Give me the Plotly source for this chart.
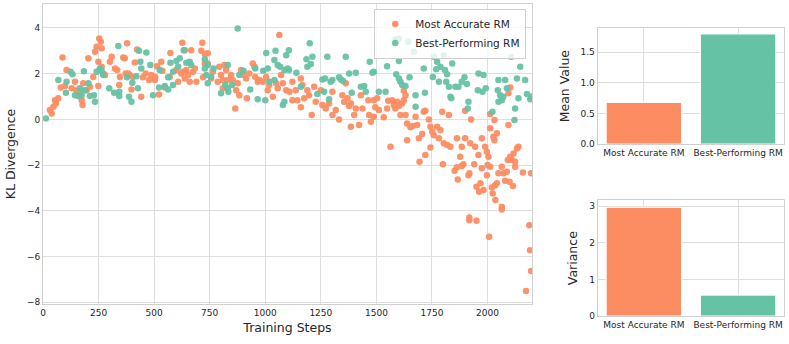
import plotly.graph_objects as go

# Most Accurate RM (orange) - training step, KL divergence
acc_steps = [31, 39, 47, 54, 58, 69, 80, 88, 99, 106, 129, 144, 151, 166, 174, 178, 181, 196, 204, 211,
             226, 234, 241, 249, 249, 253, 260, 264, 264, 271, 279, 301, 309, 324, 334, 343, 346, 361, 368, 372,
             378, 383, 390, 398, 405, 413, 423, 442, 450, 462, 477, 487, 503, 505, 513, 522, 532, 537, 548, 570,
             573, 600, 608, 622, 627, 630, 638, 638, 645, 653, 660, 667, 675, 683, 690, 712, 717, 720, 728, 728,
             741, 741, 756, 764, 786, 793, 801, 809, 809, 816, 824, 831, 846, 854, 865, 869, 876, 883, 891, 902,
             914, 917, 928, 944, 951, 955, 966, 974, 989, 1004, 1011, 1018, 1034, 1049, 1056, 1063, 1071, 1079, 1094, 1109,
             1122, 1122, 1137, 1144, 1160, 1160, 1167, 1175, 1189, 1197, 1209, 1220, 1227, 1250, 1257, 1272, 1287, 1302, 1302, 1317,
             1332, 1347, 1355, 1362, 1370, 1377, 1385, 1385, 1400, 1407, 1422, 1430, 1437, 1464, 1467, 1475, 1488, 1488, 1495, 1503,
             1511, 1533, 1548, 1553, 1563, 1571, 1578, 1585, 1593, 1601, 1608, 1616, 1623, 1623, 1631, 1631, 1638, 1638, 1653, 1661,
             1676, 1683, 1691, 1694, 1706, 1713, 1720, 1720, 1736, 1743, 1743, 1751, 1758, 1773, 1781, 1788, 1796, 1799, 1803, 1818,
             1826, 1833, 1852, 1862, 1862, 1866, 1877, 1884, 1884, 1891, 1899, 1899, 1914, 1918, 1918, 1918, 1922, 1926, 1940, 1944,
             1950, 1950, 1959, 1962, 1968, 1974, 1974, 1982, 1989, 1997, 1997, 2000, 2004, 2007, 2012, 2012, 2012, 2019, 2023, 2026,
             2031, 2031, 2034, 2035, 2042, 2042, 2049, 2064, 2064, 2064, 2071, 2079, 2087, 2091, 2094, 2094, 2099, 2102, 2102, 2109,
             2114, 2117, 2124, 2124, 2132, 2139, 2159, 2173, 2188, 2191, 2196, 2196]
acc_kl = [0.41, 0.26, 0.55, 0.84, 0.70, 0.92, 1.40, 2.71, 1.46, 2.16, 1.36, 1.65, 1.28, 1.21, 0.84, 0.63, 1.58, 1.28, 2.67, 1.43,
          1.86, 2.96, 3.18, 2.52, 1.46, 3.54, 3.40, 3.11, 2.30, 2.01, 1.94, 2.52, 2.74, 2.23, 2.16, 1.50, 1.86, 2.71, 2.67, 2.01,
          3.33, 2.01, 1.94, 1.31, 1.86, 2.49, 3.06, 0.99, 1.84, 2.01, 1.72, 1.94, 1.72, 1.86, 2.33, 1.09, 2.52, 2.13, 1.40, 1.86,
          2.91, 2.16, 1.65, 2.01, 3.35, 2.08, 3.03, 1.79, 2.16, 1.94, 1.65, 3.03, 2.08, 2.23, 1.65, 3.00, 3.35, 1.84, 2.86, 2.45,
          2.89, 2.45, 1.79, 2.08, 1.65, 2.30, 1.94, 1.72, 1.36, 2.38, 2.16, 1.72, 1.94, 1.72, 0.48, 1.28, 1.58, 1.06, 2.16, 1.94,
          1.79, 0.92, 2.01, 2.45, 2.30, 1.86, 1.65, 1.72, 1.65, 1.86, 1.28, 1.50, 0.99, 1.58, 1.36, 3.69, 1.94, 1.58, 1.28, 1.21,
          1.65, 0.84, 1.28, 0.84, 1.79, 0.53, 1.50, 0.92, 1.28, 1.06, 0.19, 1.43, 0.77, 1.28, 0.63, 0.48, 0.70, 1.21, 0.19, 0.41,
          0.00, 1.06, 0.77, 1.58, 0.92, 0.58, -0.32, 0.70, 0.19, 0.48, -0.25, 1.06, 0.48, 0.84, 0.19, -0.10, 0.84, 0.11, 0.53, 0.92,
          0.41, 0.09, 0.48, 0.81, -1.20, 0.84, 0.63, 0.48, 0.77, 0.58, 0.19, 0.70, 1.25, 0.84, 1.06, 0.19, -0.18, -0.91, -0.35, -0.29,
          0.11, -0.25, -0.83, -1.86, -0.64, 0.33, 0.38, -1.56, 0.00, -0.32, -1.23, -0.54, -0.69, -0.32, -0.83, -0.47, 0.33, -1.96, -1.05, -1.12,
          0.19, -1.20, -2.25, -0.83, -2.10, -2.63, -1.64, -1.20, -2.04, -1.96, 0.38, -0.83, -2.44, -4.29, -4.42, -2.36, -1.05, 0.00, -1.96, -1.20,
          -4.44, -2.95, -1.56, -3.17, -2.80, -0.83, -2.14, -3.09, -1.20, -1.42, -2.44, -2.00, -1.64, -5.14, 0.23, -0.39, -2.07, -2.98, -3.24, -0.76,
          -0.03, -0.91, -2.88, -3.53, -0.61, -2.80, -2.36, -2.07, -3.82, -3.94, -2.36, -2.69, -2.29, -1.78, 1.14, -0.25, -2.73, 1.40, -1.64, -1.78,
          -2.92, -1.49, -1.86, -2.07, -1.27, -1.20, -2.32, -7.51, -4.63, -5.73, -6.64, -2.36]

# Best-Performing RM (green)
best_steps = [13, 69, 103, 106, 124, 133, 144, 159, 166, 174, 184, 189, 204, 211, 229, 234, 241, 256, 264, 271,
              298, 320, 339, 343, 343, 378, 387, 398, 402, 420, 427, 432, 438, 442, 465, 483, 495, 522, 525, 548,
              563, 563, 573, 585, 585, 600, 608, 615, 633, 645, 660, 667, 728, 728, 735, 741, 741, 756, 767, 801,
              820, 831, 831, 834, 851, 876, 883, 902, 932, 955, 966, 991, 1000, 1004, 1011, 1018, 1041, 1041, 1046, 1056,
              1067, 1079, 1086, 1086, 1094, 1101, 1106, 1107, 1140, 1160, 1185, 1189, 1200, 1205, 1212, 1234, 1257, 1265, 1269, 1279,
              1287, 1294, 1302, 1332, 1340, 1350, 1362, 1377, 1389, 1407, 1430, 1445, 1452, 1470, 1482, 1488, 1511, 1541, 1548, 1585,
              1589, 1601, 1601, 1601, 1608, 1616, 1631, 1643, 1649, 1668, 1676, 1676, 1713, 1718, 1754, 1758, 1769, 1773, 1781, 1788,
              1803, 1808, 1814, 1818, 1826, 1833, 1837, 1841, 1855, 1869, 1884, 1896, 1907, 1911, 1914, 1956, 1959, 1977, 1982, 1992,
              2022, 2046, 2049, 2049, 2057, 2064, 2071, 2079, 2087, 2106, 2121, 2124, 2132, 2139, 2147, 2169, 2177, 2192, 2199]
best_kl = [0.04, 1.72, 1.16, 1.65, 2.08, 1.98, 1.06, 1.02, 1.36, 1.06, 2.11, 1.28, 1.58, 1.02, 1.06, 0.77, 2.08, 2.23, 2.13, 1.94,
           1.36, 1.16, 3.21, 1.21, 1.02, 1.84, 0.99, 0.77, 1.60, 1.89, 1.36, 3.00, 2.52, 2.23, 2.93, 2.38, 1.06, 1.40, 2.16, 1.46,
           1.31, 1.84, 2.48, 1.50, 2.08, 2.56, 2.30, 2.67, 3.03, 2.48, 2.52, 2.38, 2.63, 2.23, 1.94, 2.38, 1.58, 1.86, 2.23, 1.14,
           1.50, 2.38, 1.36, 1.21, 1.50, 3.98, 1.94, 2.13, 1.31, 2.23, 0.88, 2.13, 0.84, 2.91, 2.23, 1.65, 2.60, 1.72, 3.00, 2.38,
           2.30, 0.63, 2.16, 0.77, 2.81, 2.23, 3.03, 2.16, 2.04, 1.43, 2.63, 2.30, 3.33, 2.42, 2.74, 1.11, 1.75, 1.21, 1.79, 2.74,
           0.88, 1.65, 1.72, 1.84, 1.75, 1.68, 2.74, 2.01, 1.16, 2.04, 1.43, 1.46, 1.21, 2.52, 2.04, 2.08, 1.21, 1.21, 2.33, 3.50,
           1.98, 2.56, 3.54, 1.79, 1.65, 1.50, 1.46, 3.40, 1.84, 2.96, 1.06, 0.55, 2.23, 1.16, 1.86, 2.74, 2.19, 2.52, 1.65, 2.30,
           2.81, 2.16, 1.65, 1.98, 1.43, 0.99, 0.92, 2.45, 1.43, 1.43, 1.65, 1.84, 1.55, 0.48, 0.77, 1.28, 2.01, 1.21, 1.94, 1.36,
           0.33, 1.28, 1.72, 0.77, 1.06, 0.84, 0.99, 1.72, 1.36, 2.74, -0.03, 0.48, 1.79, 0.92, 2.30, 1.72, 1.11, 0.88, 1.00]

models = ["Most Accurate RM", "Best-Performing RM"]
mean_values = [0.68, 1.80]
variance_values = [2.97, 0.57]

ORANGE = "#fc8d62"
GREEN = "#66c2a5"
GRID = "#dedede"
TEXT = "#262626"
FONT = "DejaVu Sans"

fig = go.Figure()

fig.add_trace(go.Scatter(
    name="Most Accurate RM", x=acc_steps, y=acc_kl, mode="markers",
    marker=dict(color=ORANGE, size=6.5, opacity=0.95, line=dict(width=0)),
    xaxis="x", yaxis="y"))
fig.add_trace(go.Scatter(
    name="Best-Performing RM", x=best_steps, y=best_kl, mode="markers",
    marker=dict(color=GREEN, size=6.5, opacity=0.95, line=dict(width=0)),
    xaxis="x", yaxis="y"))

fig.add_trace(go.Bar(
    x=models, y=mean_values, width=0.8, marker=dict(color=[ORANGE, GREEN], line=dict(color="white", width=1)),
    showlegend=False, xaxis="x2", yaxis="y2"))
fig.add_trace(go.Bar(
    x=models, y=variance_values, width=0.8, marker=dict(color=[ORANGE, GREEN], line=dict(color="white", width=1)),
    showlegend=False, xaxis="x3", yaxis="y3"))

axis_style = dict(showgrid=True, gridcolor=GRID, gridwidth=1, showline=True, linecolor="#d0d0d0",
                  linewidth=1, mirror=True, zeroline=False, ticks="", automargin=False,
                  tickfont=dict(size=9, color=TEXT, family=FONT))

fig.update_layout(
    width=789, height=344,
    margin=dict(l=0, r=0, t=0, b=0),
    paper_bgcolor="white", plot_bgcolor="white",
    font=dict(family=FONT, color=TEXT),
    showlegend=True,
    legend=dict(x=0.667, y=0.975, xanchor="right", yanchor="top",
                bgcolor="rgba(255,255,255,0.8)", bordercolor="#d0d0d0", borderwidth=1,
                font=dict(size=10.5, color=TEXT, family=FONT), tracegroupgap=0),
    xaxis=dict(domain=[0.0545, 0.6743], range=[0, 2200], tickvals=[0, 250, 500, 750, 1000, 1250, 1500, 1750, 2000],
               title=dict(text="Training Steps", font=dict(size=12.5, color=TEXT), standoff=6), **axis_style),
    yaxis=dict(domain=[0.1163, 0.9884], range=[-8.08, 5.05], tickvals=[-8, -6, -4, -2, 0, 2, 4],
               ticktext=["\u22128", "\u22126", "\u22124", "\u22122", "0", "2", "4"],
               title=dict(text="KL Divergence", font=dict(size=12.5, color=TEXT), standoff=8), **axis_style),
    xaxis2=dict(domain=[0.7575, 0.994], range=[-0.49, 1.49], anchor="y2", **axis_style),
    yaxis2=dict(domain=[0.5814, 0.9177], range=[0, 1.893], tickvals=[0, 0.5, 1.0, 1.5],
                ticktext=["0.0", "0.5", "1.0", "1.5"], anchor="x2",
                title=dict(text="Mean Value", font=dict(size=12.5, color=TEXT), standoff=8), **axis_style),
    xaxis3=dict(domain=[0.7575, 0.994], range=[-0.49, 1.49], anchor="y3", **axis_style),
    yaxis3=dict(domain=[0.0814, 0.4177], range=[0, 3.16], tickvals=[0, 1, 2, 3], anchor="x3",
                title=dict(text="Variance", font=dict(size=12.5, color=TEXT), standoff=8), **axis_style),
    bargap=0.2,
)

fig.write_html("out.html", config={"displayModeBar": False},
               post_script="document.body.style.margin='0';")
